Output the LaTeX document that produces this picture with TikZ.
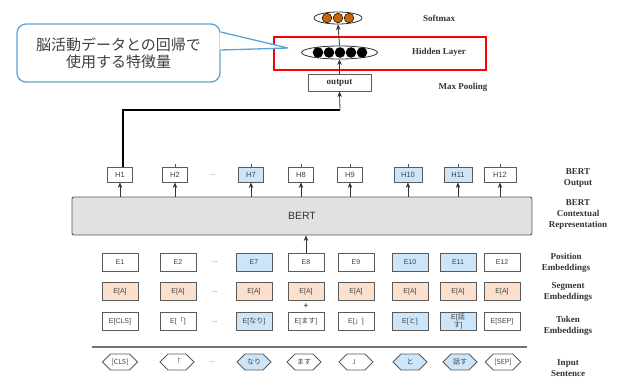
\documentclass[tikz,border=0pt]{standalone}
\usepackage{fontspec}
\setmainfont{Liberation Serif}
\setsansfont{Liberation Sans}
\newfontfamily\jp{Noto Sans CJK JP}
\usetikzlibrary{arrows.meta,shapes.symbols,shapes.geometric}
\definecolor{bordergray}{HTML}{5A5A5A}
\definecolor{lblue}{HTML}{CCE5F9}
\definecolor{peach}{HTML}{FBE1CD}
\definecolor{bertgray}{HTML}{E1E1E1}
\definecolor{calloutblue}{HTML}{5BA3D6}
\definecolor{softorange}{HTML}{CC6600}
\tikzset{
  hbox/.style={draw=bordergray, line width=0.9pt, minimum width=25pt, minimum height=15pt, inner sep=1pt, font=\sffamily\fontsize{7.5}{8}\selectfont, text=black!75},
  ebox/.style={draw=bordergray, line width=0.9pt, minimum width=36pt, minimum height=18pt, inner sep=1pt, align=center, font=\sffamily\fontsize{7}{7.5}\selectfont, text=black!75},
  hexa/.style={signal, signal to=west and east, draw=bordergray, line width=0.8pt, minimum width=34pt, minimum height=16pt, inner sep=1pt, font=\jp\fontsize{7}{7.5}\selectfont, text=black!75},
  lab/.style={font=\bfseries\fontsize{9}{11}\selectfont, align=center, text=black!80},
  dots/.style={font=\sffamily\fontsize{7}{7}\selectfont, text=black!60},
  arr/.style={-{Stealth[length=5.5pt,width=4.5pt]}, draw=black!80, line width=0.8pt}
}
\begin{document}
\begin{tikzpicture}[x=1pt,y=-1pt]
\useasboundingbox (0,0) rectangle (619,381);

% top layers
\node[draw=red, line width=2.6pt, minimum width=212pt, minimum height=33pt, inner sep=0pt] (redbox) at (380,53.5) {};
\node[draw=bordergray, line width=0.9pt, minimum width=63pt, minimum height=17pt, inner sep=0pt, font=\bfseries\fontsize{9}{10}\selectfont, text=black!80] (out) at (339.5,82.5) {output};
\node[ellipse, draw=black!80, line width=0.8pt, minimum width=76pt, minimum height=13pt, inner sep=0pt] (hid) at (339.5,52.5) {};
\foreach \x in {318,329,340,351,362}
  \fill[black] (\x,52.5) circle (5.3pt);
\node[ellipse, draw=black!80, line width=0.8pt, minimum width=48pt, minimum height=12pt, inner sep=0pt] (soft) at (338,18) {};
\foreach \x in {327,338,349}
  \filldraw[fill=softorange, draw=black, line width=0.5pt] (\x,18) circle (4.8pt);
\draw[arr] (out.north) -- (hid.south);
\draw[arr] (hid.north) -- (soft.south);

% labels
\node[lab] (l1) at (439,18) {Softmax};
\node[lab] (l2) at (439,52) {Hidden Layer};
\node[lab] (l3) at (463,87) {Max Pooling};
\node[lab] (l4) at (578,178) {BERT\\Output};
\node[lab] (l5) at (578,215) {BERT\\Contextual\\Representation};
\node[lab] (l6) at (566,263) {Position\\Embeddings};
\node[lab] (l7) at (568,292) {Segment\\Embeddings};
\node[lab] (l8) at (568,326) {Token\\Embeddings};
\node[lab] (l9) at (568,368) {Input\\Sentence};

% BERT
\node[draw=bordergray, line width=0.9pt, fill=bertgray, rounded corners=2pt, minimum width=460pt, minimum height=38pt, inner sep=0pt, font=\sffamily\fontsize{10.5}{11}\selectfont, text=black!80] (bert) at (302,216) {BERT};

% H row
\foreach \x/\t/\c/\w [count=\i] in {120/H1/white/25,175/H2/white/25,251/H7/lblue/25,301/H8/white/25,350/H9/white/25,408/H10/lblue/28,458/H11/lblue/28,500/H12/white/32}
  \node[hbox, fill=\c, minimum width=\w pt] (h\i) at (\x,174.5) {\t};
\foreach \i in {1,...,8}
  \draw[arr] (h\i.south |- bert.north) -- (h\i.south);
\foreach \i in {2,...,8}
  \draw[black!70, line width=0.6pt] (h\i.north) -- ++(0,-2.5);
\node[dots] (hd) at (213,175) {...};

% max pooling connector
\coordinate (tp) at (340,110);
\draw[line width=2.6pt, black] ([xshift=3pt]h1.north) |- (tp);
\draw[arr] (tp) -- (out.south);

% embeddings
\foreach \x/\t/\c [count=\i] in {120/E1/white,178/E2/white,254/E7/lblue,306/E8/white,356/E9/white,410/E10/lblue,458/E11/lblue,502/E12/white}
  \node[ebox, fill=\c] (p\i) at (\x,262) {\t};
\foreach \x [count=\i] in {120,178,254,306,356,410,458,502}
  \node[ebox, fill=peach] (s\i) at (\x,291.5) {E[A]};
\node[ebox, fill=white] (t1) at (120,321.5) {E[CLS]};
\node[ebox, fill=white] (t2) at (178,321.5) {E[{\jp 「}]};
\node[ebox, fill=lblue] (t3) at (254,321.5) {E[{\jp なり}]};
\node[ebox, fill=white] (t4) at (306,321.5) {E[{\jp ます}]};
\node[ebox, fill=white] (t5) at (356,321.5) {E[{\jp 」}]};
\node[ebox, fill=lblue] (t6) at (410,321.5) {E[{\jp と}]};
\node[ebox, fill=lblue, font=\sffamily\fontsize{7}{7.5}\selectfont] (t7) at (458,321.5) {E[{\jp 話}\\{\jp す}]};
\node[ebox, fill=white] (t8) at (502,321.5) {E[SEP]};
\node[dots] (pd) at (215,262) {...};
\node[dots] (sd) at (215,292) {...};
\node[dots] (td) at (215,322) {...};
\node[font=\sffamily\bfseries\fontsize{8}{8}\selectfont, text=black!70] (plus) at (306,306.5) {+};
\draw[arr] (p4.north) -- (p4.north |- bert.south);

% separator
\coordinate (sepL) at (92,347);
\coordinate (sepR) at (527,347);
\draw[black!55, line width=1.3pt] (sepL) -- (sepR);

% input sentence
\foreach \x/\t/\c [count=\i] in {120/[CLS]/white,177/「/white,254/なり/lblue,304/ます/white,356/」/white,410/と/lblue,460/話す/lblue,503/[SEP]/white}
  \node[hexa, fill=\c] (in\i) at (\x,362) {\t};
\node[dots] (id) at (212,362) {...};

% callout
\node[draw=calloutblue, line width=1.3pt, rounded corners=9pt, minimum width=203pt, minimum height=58pt, fill=white, align=center, font=\jp\fontsize{15}{17}\selectfont, text=black!75] (call) at (118.5,53) {脳活動データとの回帰で\\使用する特徴量};
\coordinate (tip) at (288,48);
\fill[white] ([yshift=21pt,xshift=-1pt]call.east) -- (tip) -- ([yshift=3pt,xshift=-1pt]call.east) -- cycle;
\draw[calloutblue, line width=1.3pt, line join=round] ([yshift=21pt]call.east) -- (tip) -- ([yshift=3pt]call.east);
\end{tikzpicture}
\end{document}
